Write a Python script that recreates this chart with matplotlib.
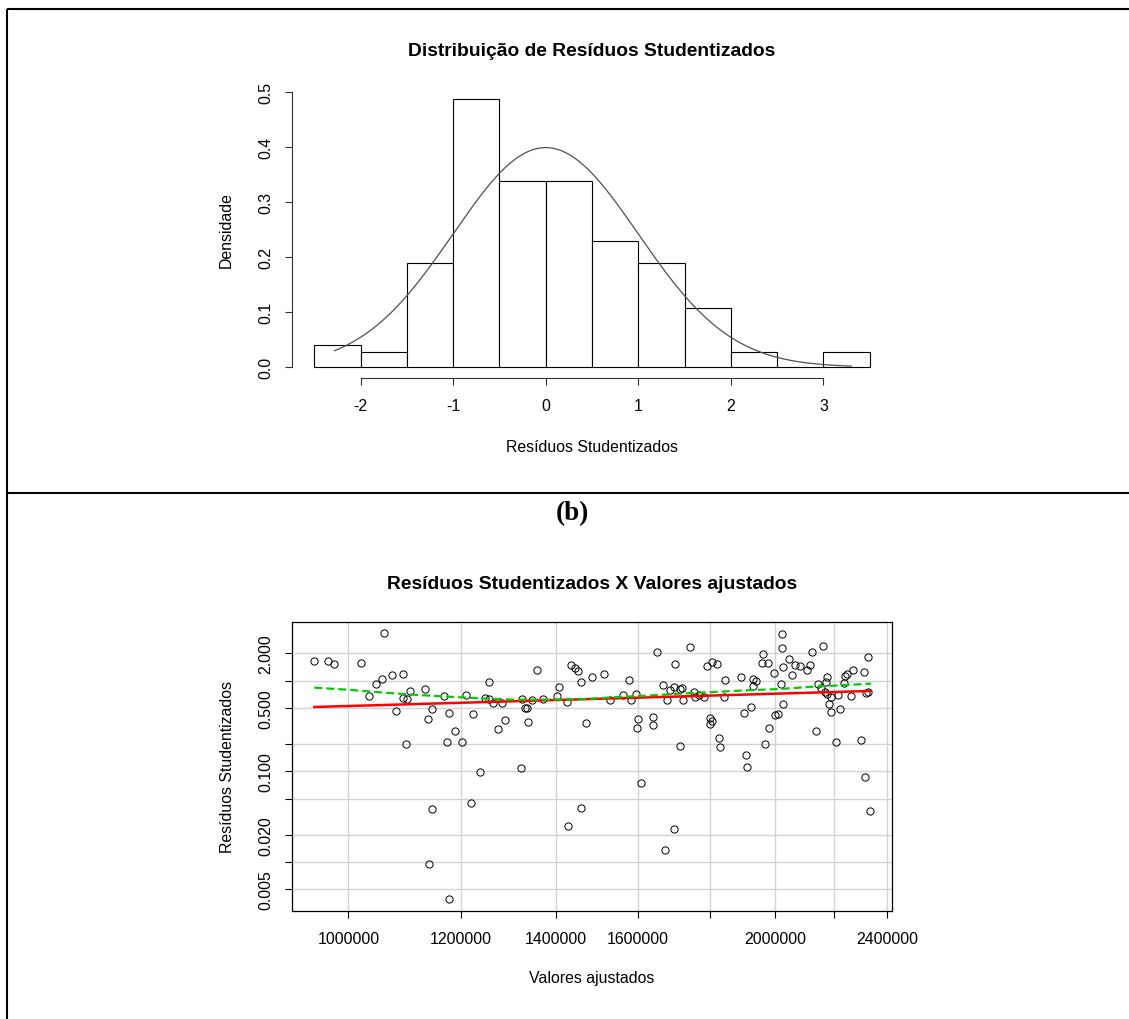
import numpy as np
import matplotlib
matplotlib.use('Agg')
import matplotlib.pyplot as plt
from matplotlib.lines import Line2D
from matplotlib.ticker import FixedLocator, FixedFormatter, NullLocator

plt.rcParams['font.family'] = ['Liberation Sans', 'DejaVu Sans']

# ---------------- data ----------------
# (a) histogram of studentized residuals
hist_breaks = [-2.5, -2.0, -1.5, -1.0, -0.5, 0.0, 0.5, 1.0, 1.5, 2.0, 2.5, 3.0, 3.5]
hist_counts = [3, 2, 14, 36, 25, 25, 17, 14, 8, 2, 0, 2]
curve_mean = 0.0
curve_sd = 1.0
curve_from = -2.28
curve_to = 3.30
hist_xticks = [-2, -1, 0, 1, 2, 3]
hist_yticks = [0.0, 0.1, 0.2, 0.3, 0.4, 0.5]
hist_ytick_labels = ['0.0', '0.1', '0.2', '0.3', '0.4', '0.5']

# (b) |studentized residuals| vs fitted values
fitted_values = [
    946300, 968000, 976500, 1021300, 1059100, 1034700, 1046500, 1055600, 1074100, 1093400,
    1079900, 1092900, 1099400, 1104800, 1098800, 1133200, 1137500, 1145000, 1146200, 1139400,
    1168700, 1177000, 1173200, 1188500, 1177600, 1203400, 1210000, 1225100, 1237800, 1221100,
    1249200, 1256000, 1257400, 1264200, 1282800, 1274500, 1289800, 1323000, 1325200, 1331600,
    1336000, 1338100, 1346900, 1357900, 1371900, 1402700, 1408000, 1425700, 1428000, 1435000,
    1445900, 1452200, 1459300, 1458500, 1470400, 1485600,
    1514800, 1529600, 1563100, 1577600, 1582700, 1594800, 1600800, 1599100, 1608700, 1640300,
    1639400, 1651000, 1667200, 1678000, 1685300, 1698100, 1700000, 1713800, 1719400, 1723100,
    1712900, 1698100, 1672600, 1741900, 1753300, 1756100, 1768500, 1782900, 1790700, 1805300,
    1820000, 1799400, 1799400, 1806300, 1826900, 1829900, 1840800, 1844800, 1893400, 1902700,
    1924400, 1928600, 1930700, 1940100, 1907800, 1912000, 1961200, 1958000, 1978300, 1968700,
    1981500, 1997700, 1999800, 2010700, 2019400, 2022700, 2023800, 2027100, 2027100, 2047000,
    2056900, 2064800, 2083900, 2107700, 2118000, 2124900, 2138700, 2145700, 2153800, 2160800,
    2167800, 2173700, 2174900, 2177300, 2184300, 2190300, 2191500, 2209300, 2214100, 2223700,
    2238200, 2240700, 2246700, 2263800, 2271200, 2300900, 2310900, 2315900, 2318400, 2324700,
    2327200, 2334800,
]
abs_stud_resid = [
    1.632, 1.632, 1.526, 1.565, 3.323, 0.671, 0.910, 1.034, 1.144, 1.174,
    0.459, 0.638, 0.622, 0.769, 0.1985, 0.802, 0.374, 0.483, 0.0381, 0.00943,
    0.671, 0.436, 0.2088, 0.276, 0.003877, 0.2088, 0.689, 0.425, 0.0975, 0.0444,
    0.638, 0.958, 0.627, 0.572, 0.562, 0.290, 0.365, 0.108, 0.627, 0.495,
    0.495, 0.347, 0.6065, 1.299, 0.627, 0.671, 0.844, 0.5765, 0.0248, 1.475,
    1.378, 1.288, 0.958, 0.0391, 0.338, 1.087,
    1.174, 0.6065, 0.689, 1.008, 0.6065, 0.706, 0.374, 0.298, 0.0738, 0.394,
    0.324, 2.051, 0.888, 0.612, 0.782, 0.844, 1.513, 0.809, 0.830, 0.6065,
    0.190, 0.0229, 0.01347, 2.329, 0.749, 0.655, 0.689, 0.666, 1.438, 1.592,
    1.513, 0.384, 0.330, 0.356, 0.233, 0.1855, 0.655, 1.008, 1.087, 0.436,
    0.508, 1.042, 0.865, 0.991, 0.150, 0.1107, 1.950, 1.565, 1.565, 0.1985,
    0.298, 1.204, 0.414, 0.425, 0.918, 3.240, 2.271, 1.402, 0.548, 1.717,
    1.154, 1.475, 1.438, 1.310, 1.475, 2.051, 0.276, 0.918, 0.830, 2.389,
    0.743, 0.966, 1.087, 0.706, 0.548, 0.660, 0.447, 0.2088, 0.689, 0.487,
    0.942, 1.1345, 1.184, 0.671, 1.299, 0.2197, 1.235, 0.0859, 0.724, 0.743,
    1.807, 0.0362,
]
trend_x = [946300, 2334800]
trend_y = [0.512, 0.769]
smooth_x = [946300, 997300, 1052800, 1111400, 1173200, 1238500, 1307400, 1380100, 1456900,
            1538000, 1623500, 1713800, 1809200, 1909900, 2016200, 2128300, 2246700, 2337300]
smooth_y = [0.8365, 0.795, 0.743, 0.700, 0.666, 0.638, 0.617, 0.617, 0.622,
            0.655, 0.683, 0.718, 0.749, 0.782, 0.809, 0.858, 0.895, 0.926]
scatter_xticks = [1000000, 1200000, 1400000, 1600000, 1800000, 2000000, 2200000, 2400000]
scatter_xtick_labels = ['1000000', '1200000', '1400000', '1600000', '', '2000000', '', '2400000']
scatter_yticks = [0.005, 0.01, 0.02, 0.05, 0.1, 0.2, 0.5, 1, 2]
scatter_ytick_labels = ['0.005', '', '0.020', '', '0.100', '', '0.500', '', '2.000']

# ---------------- figure ----------------
W, H = 1129, 1020
fig = plt.figure(figsize=(W / 100, H / 100), dpi=100)


def px_axes(l, t, r, b):
    return fig.add_axes([l / W, 1 - b / H, (r - l) / W, (b - t) / H])


def fx(x):
    return x / W


def fy(y):
    return 1 - y / H


BASE = 11.4
TITLE = 13.9

# table frame
for (x0, y0, x1, y1) in [(7, 10, W, 10), (7, 494, W, 494), (7, 10, 7, H)]:
    fig.add_artist(Line2D([fx(x0), fx(x1)], [fy(y0), fy(y1)], transform=fig.transFigure,
                          color='black', lw=1.5, solid_capstyle='butt'))

# ---------- (a) histogram ----------
ax1 = px_axes(292, 82, 892, 379)
breaks = np.array(hist_breaks)
counts = np.array(hist_counts, dtype=float)
widths = np.diff(breaks)
dens = counts / (counts.sum() * widths)
ax1.bar(breaks[:-1], dens, width=widths, align='edge', facecolor='white',
        edgecolor='black', lw=0.8, zorder=2)
xs = np.linspace(curve_from, curve_to, 400)
pdf = np.exp(-0.5 * ((xs - curve_mean) / curve_sd) ** 2) / (curve_sd * np.sqrt(2 * np.pi))
ax1.plot(xs, pdf, color='#505050', lw=0.9, zorder=3)
ax1.set_xlim(-2.74, 3.74)
ax1.set_ylim(-0.02, 0.52)
for s in ['top', 'right']:
    ax1.spines[s].set_visible(False)
ax1.spines['left'].set_bounds(0, 0.5)
ax1.spines['bottom'].set_bounds(-2, 3)
for s in ['left', 'bottom']:
    ax1.spines[s].set_linewidth(0.8)
    ax1.spines[s].set_color('#333333')
ax1.set_xticks(hist_xticks)
ax1.set_xticklabels([str(v) for v in hist_xticks])
ax1.set_yticks(hist_yticks)
ax1.set_yticklabels(hist_ytick_labels, rotation=90, va='center')
ax1.tick_params(axis='both', direction='out', length=5, width=0.8, color='#333333',
                labelsize=BASE)
ax1.tick_params(axis='x', pad=9.5)
ax1.tick_params(axis='y', pad=8.3)
ax1.patch.set_visible(False)

fig.text(fx(592), fy(52), 'Distribuição de Resíduos Studentizados', ha='center', va='center',
         fontsize=TITLE, fontweight='bold')
fig.text(fx(592), fy(447), 'Resíduos Studentizados', ha='center', va='center', fontsize=BASE)
fig.text(fx(226), fy(230), 'Densidade', ha='center', va='center', fontsize=BASE, rotation=90)

# ---------- (b) scatter ----------
fig.text(fx(572), fy(514), '(b)', ha='center', va='center', fontsize=19.5,
         fontweight='bold', family=['Liberation Serif', 'DejaVu Serif'])

ax2 = px_axes(292, 623, 892, 912)
ax2.set_xscale('log')
ax2.set_yscale('log')
ax2.set_xlim(912600, 2418000)
ax2.set_ylim(0.002883, 4.43)
ax2.xaxis.set_major_locator(FixedLocator(scatter_xticks))
ax2.xaxis.set_major_formatter(FixedFormatter(scatter_xtick_labels))
ax2.xaxis.set_minor_locator(NullLocator())
ax2.yaxis.set_major_locator(FixedLocator(scatter_yticks))
ax2.yaxis.set_major_formatter(FixedFormatter(scatter_ytick_labels))
ax2.yaxis.set_minor_locator(NullLocator())
for lab in ax2.get_yticklabels():
    lab.set_rotation(90)
    lab.set_va('center')
ax2.grid(True, color='#D3D3D3', lw=1.0)
ax2.set_axisbelow(True)
ax2.tick_params(axis='both', direction='out', length=5, width=0.8, labelsize=BASE)
ax2.tick_params(axis='x', pad=9.5)
ax2.tick_params(axis='y', pad=8.3)
for s in ax2.spines.values():
    s.set_linewidth(0.9)

ax2.plot(fitted_values, abs_stud_resid, ls='none', marker='o', ms=5.2, mfc='none',
         mec='black', mew=0.7, zorder=3)
ax2.plot(trend_x, trend_y, color='#FF0000', lw=1.8, zorder=4)
ax2.plot(smooth_x, smooth_y, color='#00CD00', lw=1.6, dashes=(3.6, 1.8), zorder=5)

fig.text(fx(592), fy(585), 'Resíduos Studentizados X Valores ajustados', ha='center',
         va='center', fontsize=TITLE, fontweight='bold')
fig.text(fx(592), fy(979), 'Valores ajustados', ha='center', va='center', fontsize=BASE)
fig.text(fx(227), fy(767), 'Resíduos Studentizados', ha='center', va='center', fontsize=BASE,
         rotation=90)

fig.savefig('out.png', dpi=100)
